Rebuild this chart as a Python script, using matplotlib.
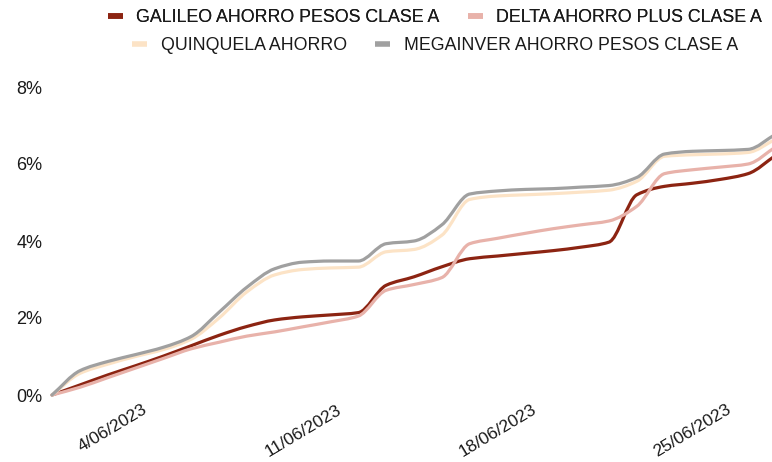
import matplotlib
matplotlib.use('Agg')
import matplotlib.pyplot as plt
import matplotlib.dates as mdates
import matplotlib.transforms as mtransforms
from matplotlib.path import Path
from matplotlib.patches import PathPatch
from matplotlib.lines import Line2D
from datetime import datetime

plt.rcParams['font.family'] = ['Liberation Sans', 'DejaVu Sans']

dates = ['2023-06-01', '2023-06-02', '2023-06-03', '2023-06-04', '2023-06-05',
         '2023-06-06', '2023-06-07', '2023-06-08', '2023-06-09', '2023-06-10',
         '2023-06-11', '2023-06-12', '2023-06-13', '2023-06-14', '2023-06-15',
         '2023-06-16', '2023-06-17', '2023-06-18', '2023-06-19', '2023-06-20',
         '2023-06-21', '2023-06-22', '2023-06-23', '2023-06-24', '2023-06-25',
         '2023-06-26', '2023-06-27']

galileo = [0.00, 0.26, 0.52, 0.76, 1.01, 1.28, 1.55, 1.78, 1.95, 2.03, 2.08, 2.14, 2.85, 3.07,
           3.33, 3.54, 3.61, 3.68, 3.75, 3.84, 3.97, 5.20, 5.42, 5.50, 5.60, 5.75, 6.23]
delta = [0.00, 0.20, 0.45, 0.70, 0.95, 1.20, 1.37, 1.53, 1.64, 1.77, 1.90, 2.05, 2.72, 2.87,
         3.05, 3.93, 4.07, 4.20, 4.32, 4.42, 4.52, 4.90, 5.75, 5.85, 5.92, 6.00, 6.45]
quinquela = [0.00, 0.56, 0.80, 1.00, 1.18, 1.45, 2.00, 2.68, 3.12, 3.26, 3.30, 3.32, 3.72, 3.78,
             4.15, 5.08, 5.17, 5.20, 5.23, 5.27, 5.32, 5.55, 6.20, 6.24, 6.26, 6.30, 6.65]
megainver = [0.00, 0.63, 0.87, 1.05, 1.24, 1.52, 2.15, 2.80, 3.28, 3.45, 3.48, 3.48, 3.93, 4.00,
             4.42, 5.22, 5.30, 5.34, 5.36, 5.40, 5.44, 5.65, 6.26, 6.33, 6.35, 6.38, 6.78]

series_names = ['GALILEO AHORRO PESOS CLASE A', 'DELTA AHORRO PLUS CLASE A',
                'QUINQUELA AHORRO', 'MEGAINVER AHORRO PESOS CLASE A']
series_values = [galileo, delta, quinquela, megainver]
colors = ['#8C2412', '#E8B2AA', '#FCE3C6', '#A0A0A0']

tick_dates = ['2023-06-04', '2023-06-11', '2023-06-18', '2023-06-25']
tick_labels = ['4/06/2023', '11/06/2023', '18/06/2023', '25/06/2023']
y_ticks = [0, 2, 4, 6, 8]
y_labels = ['0%', '2%', '4%', '6%', '8%']


def smooth_path(x, y):
    """Smooth curve through the data points (monotone cubic tangents, drawn as Beziers)."""
    n = len(x)
    h = [x[i + 1] - x[i] for i in range(n - 1)]
    d = [(y[i + 1] - y[i]) / h[i] for i in range(n - 1)]
    m = [0.0] * n
    m[0] = d[0]
    m[-1] = d[-1]
    for i in range(1, n - 1):
        if d[i - 1] * d[i] <= 0:
            m[i] = 0.0
        else:
            w1 = 2 * h[i] + h[i - 1]
            w2 = h[i] + 2 * h[i - 1]
            m[i] = (w1 + w2) / (w1 / d[i - 1] + w2 / d[i])
    verts = [(x[0], y[0])]
    codes = [Path.MOVETO]
    for i in range(n - 1):
        c1 = (x[i] + h[i] / 3.0, y[i] + m[i] * h[i] / 3.0)
        c2 = (x[i + 1] - h[i] / 3.0, y[i + 1] - m[i + 1] * h[i] / 3.0)
        verts += [c1, c2, (x[i + 1], y[i + 1])]
        codes += [Path.CURVE4] * 3
    return Path(verts, codes)


W, H = 772, 462
fig = plt.figure(figsize=(W / 100, H / 100), dpi=100)
ax = fig.add_axes([52 / W, (H - 395) / H, (776 - 52) / W, (395 - 87) / H])

xnum = [mdates.date2num(datetime.strptime(s, '%Y-%m-%d')) for s in dates]
for vals, col in zip(series_values, colors):
    p = PathPatch(smooth_path(xnum, vals), facecolor='none', edgecolor=col, lw=2.3,
                  capstyle='round', joinstyle='round', clip_on=False)
    ax.add_patch(p)

ax.set_xlim(xnum[0], xnum[-1])
ax.set_ylim(0, 8)
for s in ax.spines.values():
    s.set_visible(False)

ax.set_yticks(y_ticks)
ax.set_yticklabels(y_labels)
ax.tick_params(axis='y', length=0, pad=7, labelsize=13, labelcolor='#1a1a1a')

tnum = [mdates.date2num(datetime.strptime(s, '%Y-%m-%d')) for s in tick_dates]
ax.set_xticks(tnum)
ax.set_xticklabels(tick_labels)
ax.tick_params(axis='x', length=0, pad=5, labelsize=12.6, labelcolor='#1a1a1a')
offset = mtransforms.ScaledTranslation(6 / 100, 0, fig.dpi_scale_trans)
for lab in ax.get_xticklabels():
    lab.set_rotation(31)
    lab.set_ha('right')
    lab.set_va('top')
    lab.set_rotation_mode('anchor')
    lab.set_transform(lab.get_transform() + offset)

handles = [Line2D([0], [0], color=c, lw=4, solid_capstyle='butt') for c in colors]
leg_kw = dict(loc='center', ncol=2, frameon=False, fontsize=12.8, handlelength=0.85,
              handletextpad=0.75, columnspacing=1.6, borderpad=0, borderaxespad=0)
leg1 = fig.legend(handles[0:2], series_names[0:2], bbox_to_anchor=(435 / W, 1 - 18 / H), **leg_kw)
for t in leg1.get_texts():
    t.set_color('#1a1a1a')
fig.add_artist(leg1)
leg2 = fig.legend(handles[2:4], series_names[2:4], bbox_to_anchor=(435 / W, 1 - 46 / H), **leg_kw)
for t in leg2.get_texts():
    t.set_color('#1a1a1a')

fig.savefig('out.png', dpi=100, facecolor='white')
